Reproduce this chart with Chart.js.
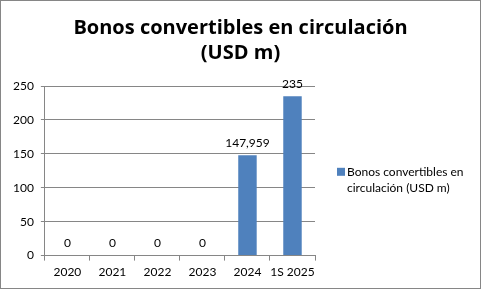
<!DOCTYPE html>
<html>
<head>
<meta charset="utf-8">
<script src="https://cdn.jsdelivr.net/npm/chart.js@4"></script>
<style>
  body { margin: 0; background: #fff; }
</style>
</head>
<body>
<canvas id="js--chart" width="481" height="289"></canvas>
<script>
const labels = ['2020', '2021', '2022', '2023', '2024', '1S 2025'];
const valores = [0, 0, 0, 0, 147.959, 235];
const yTicks = [0, 50, 100, 150, 200, 250];
const titulo = ['Bonos convertibles en circulación', '(USD m)'];
const leyenda = ['Bonos convertibles en', 'circulación (USD m)'];

const fuente = 'Lato, "Open Sans", sans-serif';
const fuenteTitulo = '"Open Sans", Lato, sans-serif';
const gris = '#868686';
const azul = '#4F81BD';

// marco gris alrededor del gráfico
const marco = {
    id: 'marco',
    beforeDraw(chart) {
        const ctx = chart.ctx;
        ctx.save();
        ctx.fillStyle = '#fff';
        ctx.fillRect(0, 0, chart.width, chart.height);
        ctx.strokeStyle = gris;
        ctx.lineWidth = 1;
        ctx.strokeRect(0.5, 0.5, chart.width - 1, chart.height - 1);
        ctx.restore();
    }
};

// etiquetas encima de las barras
const etiquetas = {
    id: 'etiquetas',
    afterDatasetsDraw(chart) {
        const ctx = chart.ctx;
        const meta = chart.getDatasetMeta(0);
        ctx.save();
        ctx.font = '12px ' + fuente;
        ctx.fillStyle = '#000';
        ctx.textAlign = 'center';
        ctx.textBaseline = 'middle';
        meta.data.forEach((bar, i) => {
            const texto = valores[i].toLocaleString('es-ES', { maximumFractionDigits: 3 });
            ctx.fillText(texto, bar.x, bar.y - 12);
        });
        ctx.restore();
    }
};

// leyenda a la derecha, en dos lineas
const leyendaDerecha = {
    id: 'leyendaDerecha',
    afterDraw(chart) {
        const ctx = chart.ctx;
        const area = chart.chartArea;
        const x = area.right + 22;
        const y = (area.top + area.bottom) / 2;
        ctx.save();
        ctx.fillStyle = azul;
        ctx.fillRect(x, y - 3, 8, 8);
        ctx.font = '12px ' + fuente;
        ctx.fillStyle = '#000';
        ctx.textAlign = 'left';
        ctx.textBaseline = 'middle';
        leyenda.forEach((linea, i) => {
            ctx.fillText(linea, x + 10, y + 1 + i * 16);
        });
        ctx.restore();
    }
};

const data = {
    labels: labels,
    datasets: [
        {
            label: leyenda.join(' '),
            data: valores,
            backgroundColor: azul,
            borderWidth: 0,
            categoryPercentage: 1,
            barPercentage: 0.41
        }
    ]
};

const config = {
    type: 'bar',
    data: data,
    plugins: [marco, etiquetas, leyendaDerecha],
    options: {
        responsive: false,
        animation: false,
        layout: {
            padding: { left: 0, right: 0, top: 0, bottom: 6 }
        },
        scales: {
            x: {
                grid: {
                    display: true,
                    offset: true,
                    drawOnChartArea: false,
                    drawTicks: true,
                    tickLength: 5,
                    color: gris
                },
                border: { display: true, color: gris },
                ticks: {
                    color: '#000',
                    font: { family: fuente, size: 12 },
                    padding: 4,
                    maxRotation: 0,
                    autoSkip: false
                }
            },
            y: {
                min: 0,
                max: 250,
                afterBuildTicks: scale => {
                    scale.ticks = yTicks.map(v => ({ value: v }));
                },
                afterFit: scale => { scale.width += 6; },
                grid: {
                    color: gris,
                    drawTicks: true,
                    tickLength: 4
                },
                border: { display: true, color: gris },
                ticks: {
                    color: '#000',
                    font: { family: fuente, size: 12 },
                    padding: 7
                }
            },
            // eje vacio que reserva el hueco de la leyenda
            hueco: {
                position: 'right',
                display: true,
                grid: { display: false },
                border: { display: false },
                ticks: { display: false },
                afterFit: scale => { scale.width = 166; }
            }
        },
        plugins: {
            title: {
                display: true,
                text: titulo,
                color: '#000',
                font: { family: fuenteTitulo, size: 20, weight: 'bold', lineHeight: 1.25 },
                padding: { top: 16, bottom: 20 }
            },
            legend: { display: false },
            tooltip: { enabled: false }
        }
    }
};

new Chart(document.getElementById('js--chart'), config);
</script>
</body>
</html>
